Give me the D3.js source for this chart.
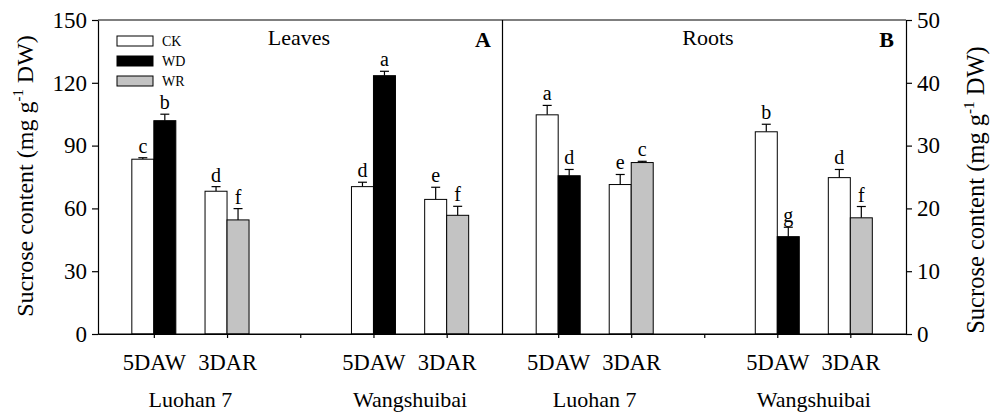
<!DOCTYPE html>
<html><head><meta charset="utf-8">
<script src="https://cdn.jsdelivr.net/npm/d3@7"></script>
<style>
body{margin:0;background:#fff;}
svg{display:block;}
svg text{font-family:"Liberation Serif","Tinos","DejaVu Serif","Noto Serif",serif !important;}
</style></head>
<body><svg id="c" width="995" height="414"></svg>
<script>
// ---- data ----
const cultivars = ["Luohan 7", "Wangshuibai"];
const stages = ["5DAW", "3DAR"];
const positions = ["L-5DAW", "L-3DAR", "gap", "W-5DAW", "W-3DAR"];
const positionLabels = ["5DAW", "3DAR", "", "5DAW", "3DAR"];
const barPositions = ["L-5DAW", "L-3DAR", "W-5DAW", "W-3DAR"];
const stressTreatment = ["WD", "WR", "WD", "WR"];
const treatments = ["CK", "WD", "WR"];
const treatmentColors = {CK: "#ffffff", WD: "#000000", WR: "#c3c3c3"};

const leavesCK = [83.5, 68.2, 70.4, 64.3];
const leavesCKErr = [0.7, 2.2, 2.1, 5.8];
const leavesCKLetters = ["c", "d", "d", "e"];
const leavesStress = [101.9, 54.5, 123.4, 56.7];
const leavesStressErr = [3.1, 5.4, 2.1, 4.3];
const leavesStressLetters = ["b", "f", "a", "f"];

const rootsCK = [34.9, 23.8, 32.2, 24.9];
const rootsCKErr = [1.5, 1.6, 1.2, 1.3];
const rootsCKLetters = ["a", "e", "b", "d"];
const rootsStress = [25.2, 27.3, 15.5, 18.5];
const rootsStressErr = [1.0, 0.2, 1.5, 1.8];
const rootsStressLetters = ["d", "c", "g", "f"];

const leftTicks = [0, 30, 60, 90, 120, 150];
const rightTicks = [0, 10, 20, 30, 40, 50];

// ---- layout ----
const FONT = '"Liberation Serif","Tinos","DejaVu Serif","Noto Serif",serif';
const svg = d3.select("#c").attr("font-family", FONT);
const L = 98, R = 906, T = 20, B = 334, MID = 502.5;
const barW = 22;

const yLeft = d3.scaleLinear().domain([0, 150]).range([B, T]);
const yRight = d3.scaleLinear().domain([0, 50]).range([B, T]);
const xA = d3.scalePoint().domain(positions).range([L, MID]).padding(0.7625);
const xB = d3.scalePoint().domain(positions).range([MID, R]).padding(0.7625);

const panels = [
  {x: xA, y: yLeft, ck: leavesCK, ckErr: leavesCKErr, ckLet: leavesCKLetters,
   st: leavesStress, stErr: leavesStressErr, stLet: leavesStressLetters},
  {x: xB, y: yRight, ck: rootsCK, ckErr: rootsCKErr, ckLet: rootsCKLetters,
   st: rootsStress, stErr: rootsStressErr, stLet: rootsStressLetters}
];

panels.forEach(p => {
  const g = svg.append("g");
  barPositions.forEach((pos, i) => {
    const cx = p.x(pos);
    const bars = [
      {x0: cx - barW, v: p.ck[i], e: p.ckErr[i], lt: p.ckLet[i], fill: treatmentColors.CK},
      {x0: cx, v: p.st[i], e: p.stErr[i], lt: p.stLet[i], fill: treatmentColors[stressTreatment[i]]}
    ];
    bars.forEach(b => {
      const mx = b.x0 + barW / 2;
      const top = p.y(b.v), cap = p.y(b.v + b.e);
      g.append("line").attr("x1", mx).attr("x2", mx).attr("y1", top).attr("y2", cap)
        .attr("stroke", "#000").attr("stroke-width", 1.2);
      g.append("line").attr("x1", mx - 4.5).attr("x2", mx + 4.5).attr("y1", cap).attr("y2", cap)
        .attr("stroke", "#000").attr("stroke-width", 1.2);
      g.append("rect").attr("x", b.x0).attr("y", top).attr("width", barW).attr("height", B - top)
        .attr("fill", b.fill).attr("stroke", "#000").attr("stroke-width", 1);
      g.append("text").attr("x", mx).attr("y", cap - 5).attr("text-anchor", "middle")
        .attr("font-size", 20).attr("fill", "#000").text(b.lt);
    });
  });
});

// frame
const frame = svg.append("g").attr("stroke", "#000").attr("stroke-width", 1.2);
frame.append("line").attr("x1", L).attr("x2", R).attr("y1", T).attr("y2", T);
frame.append("line").attr("x1", MID).attr("x2", MID).attr("y1", T).attr("y2", B);

// axes
function styleAxis(sel) {
  sel.attr("font-family", FONT);
  sel.selectAll("path,line").attr("stroke", "#000").attr("stroke-width", 1.2);
  sel.selectAll("text").attr("fill", "#000");
}
svg.append("g").attr("transform", `translate(${L},0)`)
  .call(d3.axisLeft(yLeft).tickValues(leftTicks).tickSize(6).tickSizeOuter(0).tickPadding(5))
  .attr("font-size", 23).call(styleAxis);
svg.append("g").attr("transform", `translate(${R},0)`)
  .call(d3.axisRight(yRight).tickValues(rightTicks).tickSize(6).tickSizeOuter(0).tickPadding(5))
  .attr("font-size", 23).call(styleAxis);
[xA, xB].forEach(x => {
  svg.append("g").attr("transform", `translate(0,${B})`)
    .call(d3.axisBottom(x).tickSize(4).tickSizeOuter(0).tickPadding(16)
      .tickFormat(d => positionLabels[positions.indexOf(d)]))
    .attr("font-size", 22.5).call(styleAxis);
});
svg.append("line").attr("x1", L).attr("x2", R).attr("y1", B).attr("y2", B)
  .attr("stroke", "#000").attr("stroke-width", 1.2);

// cultivar labels
[xA, xB].forEach(x => {
  cultivars.forEach((c, ci) => {
    const p0 = x(positions[ci * 3]), p1 = x(positions[ci * 3 + 1]);
    svg.append("text").attr("x", (p0 + p1) / 2).attr("y", 407).attr("text-anchor", "middle")
      .attr("font-size", 22).attr("fill", "#000").text(c);
  });
});

// panel titles
svg.append("text").attr("x", 299).attr("y", 45).attr("text-anchor", "middle").attr("font-size", 22).text("Leaves");
svg.append("text").attr("x", 708).attr("y", 45).attr("text-anchor", "middle").attr("font-size", 22).text("Roots");
svg.append("text").attr("x", 491).attr("y", 47).attr("text-anchor", "end").attr("font-size", 22).attr("font-weight", "bold").text("A");
svg.append("text").attr("x", 894).attr("y", 47).attr("text-anchor", "end").attr("font-size", 22).attr("font-weight", "bold").text("B");

// legend
treatments.forEach((t, i) => {
  const y0 = 36 + i * 20;
  svg.append("rect").attr("x", 117).attr("y", y0).attr("width", 36).attr("height", 10)
    .attr("fill", treatmentColors[t]).attr("stroke", "#000").attr("stroke-width", 1);
  svg.append("text").attr("x", 162).attr("y", y0 + 10).attr("font-size", 14).text(t);
});

// y titles
function yTitle(x, y, fs) {
  const t = svg.append("text").attr("transform", `translate(${x},${y}) rotate(-90)`)
    .attr("text-anchor", "middle").attr("font-size", fs).attr("fill", "#000");
  t.append("tspan").text("Sucrose content (mg g");
  t.append("tspan").attr("font-size", fs * 0.62).attr("dy", -fs * 0.42).text("-1");
  t.append("tspan").attr("dy", fs * 0.42).text(" DW)");
}
yTitle(33, 176, 24);
yTitle(984, 190, 24.5);
</script></body></html>
